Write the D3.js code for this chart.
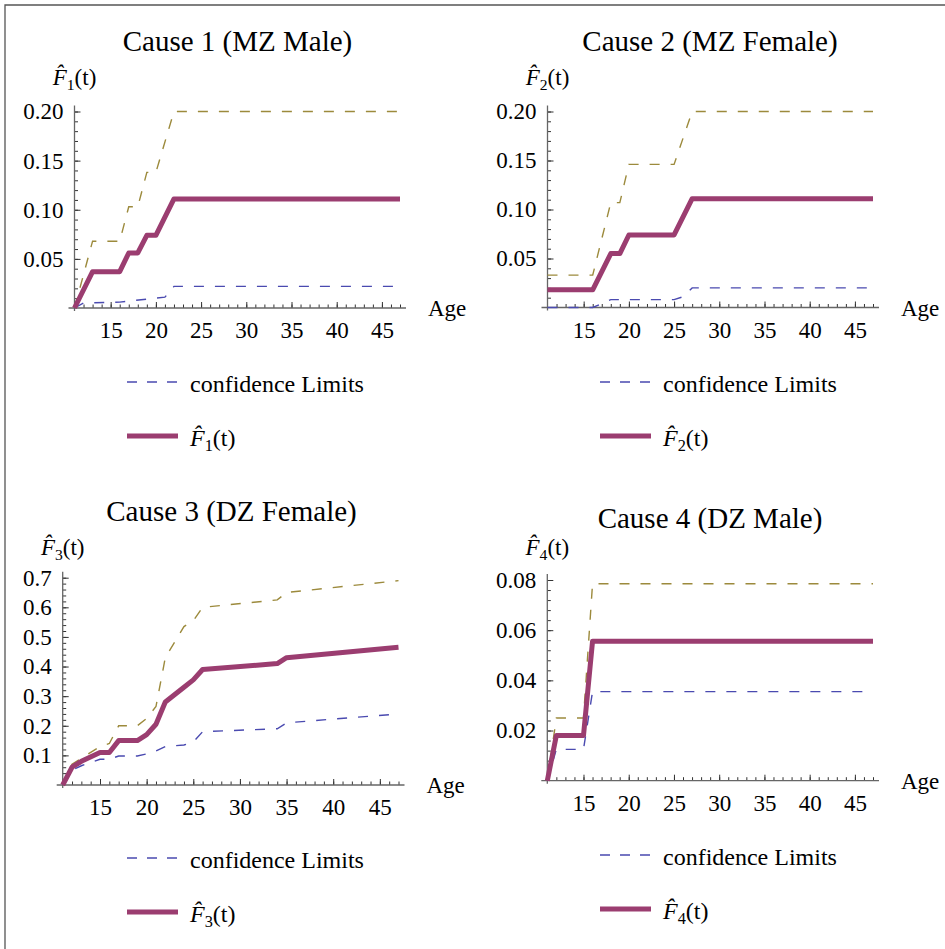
<!DOCTYPE html>
<html>
<head>
<meta charset="utf-8">
<script src="https://cdn.jsdelivr.net/npm/d3@7/dist/d3.min.js"></script>
<style>
body { margin:0; background:#fff; }
svg text { font-family: "Liberation Serif", "Times New Roman", serif; fill:#000; }
</style>
</head>
<body>
<svg id="chart" width="945" height="949"></svg>
<script>
// ---- data ----
// Cause 1 (MZ Male)
const ages1 = [11, 13, 16, 17, 18, 19, 20, 22, 47]
const est1 = [0, 0.037, 0.037, 0.056, 0.056, 0.074, 0.074, 0.111, 0.111]
const upper1 = [0, 0.068, 0.068, 0.103, 0.103, 0.138, 0.138, 0.2, 0.2]
const lowAges1 = [11, 12, 16, 19, 21, 22, 47]
const lower1 = [0, 0.005, 0.006, 0.009, 0.011, 0.022, 0.022]

// Cause 2 (MZ Female)
const ages2 = [11, 16, 18, 19, 20, 25, 27, 47]
const est2 = [0.018, 0.018, 0.055, 0.055, 0.074, 0.074, 0.111, 0.111]
const upper2 = [0.033, 0.033, 0.107, 0.107, 0.146, 0.146, 0.2, 0.2]
const lowAges2 = [11, 16, 18, 25, 26, 27, 47]
const lower2 = [0, 0, 0.008, 0.008, 0.011, 0.020, 0.020]

// Cause 3 (DZ Female)
const ages3 = [11, 12, 13, 15, 16, 17, 19, 20, 21, 22, 24, 25, 26, 34, 35, 47]
const est3 = [0, 0.06, 0.08, 0.11, 0.11, 0.15, 0.15, 0.17, 0.205, 0.28, 0.33, 0.355, 0.39, 0.41, 0.43, 0.465]
const upper3 = [0, 0.07, 0.09, 0.13, 0.14, 0.2, 0.2, 0.225, 0.265, 0.43, 0.535, 0.555, 0.6, 0.625, 0.65, 0.69]
const lower3 = [0, 0.05, 0.065, 0.087, 0.087, 0.098, 0.098, 0.105, 0.115, 0.13, 0.135, 0.145, 0.18, 0.19, 0.21, 0.24]

// Cause 4 (DZ Male)
const ages4 = [11, 12, 15, 16, 47]
const est4 = [0, 0.018, 0.018, 0.0556, 0.0556]
const upper4 = [0, 0.025, 0.025, 0.0785, 0.0785]
const lower4 = [0, 0.0125, 0.0125, 0.0355, 0.0355]

// tick values
const xTicks = [15, 20, 25, 30, 35, 40, 45]
const yTicks12 = [0.05, 0.10, 0.15, 0.20]
const yTicks3 = [0.1, 0.2, 0.3, 0.4, 0.5, 0.6, 0.7]
const yTicks4 = [0.02, 0.04, 0.06, 0.08]

const titles = ["Cause 1 (MZ Male)", "Cause 2 (MZ Female)", "Cause 3 (DZ Female)", "Cause 4 (DZ Male)"]

const serif = '"Liberation Serif", "Times New Roman", serif'
const colEst = "#9b3d70"
const colUp = "#9c8a3c"
const colLow = "#4a4ab0"

const panels = [
    {n:1, title:titles[0], ages:ages1, est:est1, up:upper1, lowAges:lowAges1, low:lower1,
     yMax:0.2, yTicks:yTicks12, yMinor:0.01, fmt:".2f",
     x0:74.5, x1:400, y0:308, y1:111.5, tx:237.5, ty:51, labY:85, legY:382, legX:127},
    {n:2, title:titles[1], ages:ages2, est:est2, up:upper2, lowAges:lowAges2, low:lower2,
     yMax:0.2, yTicks:yTicks12, yMinor:0.01, fmt:".2f",
     x0:547.5, x1:873, y0:307.5, y1:111.5, tx:710, ty:51, labY:85, legY:382, legX:600},
    {n:3, title:titles[2], ages:ages3, est:est3, up:upper3, lowAges:ages3, low:lower3,
     yMax:0.7, yTicks:yTicks3, yMinor:0.02, fmt:".1f",
     x0:62.7, x1:398.5, y0:785, y1:577.7, tx:231.5, ty:521, labY:555, legY:858, legX:127},
    {n:4, title:titles[3], ages:ages4, est:est4, up:upper4, lowAges:ages4, low:lower4,
     yMax:0.08, yTicks:yTicks4, yMinor:0.004, fmt:".2f",
     x0:547.3, x1:873, y0:780.7, y1:580, tx:710, ty:528, labY:555, legY:855, legX:600}
]

const svg = d3.select("#chart")

// outer frame
svg.append("path")
    .attr("d", "M5,949 L5,5 L945,5")
    .attr("fill", "none")
    .attr("stroke", "#555")
    .attr("stroke-width", 1.3)

function fLabel(sel, n, size){
    sel.append("tspan").attr("font-style", "italic").text("F\u0302")
    sel.append("tspan").attr("font-size", size*0.68).attr("dy", 5).text(n)
    sel.append("tspan").attr("dy", -5).text("(t)")
}

panels.forEach(function(p){
    const g = svg.append("g")

    const x = d3.scaleLinear().domain([11, 47]).range([p.x0, p.x1])
    const y = d3.scaleLinear().domain([0, p.yMax]).range([p.y0, p.y1])

    // title
    g.append("text")
        .attr("x", p.tx).attr("y", p.ty)
        .attr("text-anchor", "middle")
        .attr("font-size", 29)
        .text(p.title)

    // minor ticks
    const minorX = d3.range(12, 48)
    const minorY = d3.range(1, Math.round(p.yMax/p.yMinor)+1).map(i => i*p.yMinor)

    g.append("g")
        .attr("transform", `translate(0,${p.y0})`)
        .call(d3.axisBottom(x).tickValues(minorX).tickSize(-3.5).tickFormat(""))
        .call(a => a.select(".domain").remove())
    g.append("g")
        .attr("transform", `translate(${p.x0},0)`)
        .call(d3.axisLeft(y).tickValues(minorY).tickSize(-3.5).tickFormat(""))
        .call(a => a.select(".domain").remove())

    // major ticks with labels
    g.append("g")
        .attr("transform", `translate(0,${p.y0})`)
        .call(d3.axisBottom(x).tickValues(xTicks).tickSize(-6).tickPadding(14))
        .attr("font-family", serif).attr("font-size", 23)
        .call(a => a.select(".domain").remove())
    g.append("g")
        .attr("transform", `translate(${p.x0},0)`)
        .call(d3.axisLeft(y).tickValues(p.yTicks).tickSize(-6).tickPadding(11).tickFormat(d3.format(p.fmt)))
        .attr("font-family", serif).attr("font-size", 23)
        .call(a => a.select(".domain").remove())

    g.selectAll(".tick line").attr("stroke", "#333")

    // axis lines
    g.append("line")
        .attr("x1", p.x0-6).attr("x2", p.x1+6)
        .attr("y1", p.y0).attr("y2", p.y0)
        .attr("stroke", "#666").attr("stroke-width", 1.3)
    g.append("line")
        .attr("x1", p.x0).attr("x2", p.x0)
        .attr("y1", p.y0+3).attr("y2", p.y1-6)
        .attr("stroke", "#666").attr("stroke-width", 1.3)

    // axis labels
    g.append("text")
        .attr("x", p.x1+28).attr("y", p.y0+8)
        .attr("font-size", 23)
        .text("Age")
    const lab = g.append("text")
        .attr("x", p.x0).attr("y", p.labY)
        .attr("text-anchor", "middle")
        .attr("font-size", 23)
    fLabel(lab, p.n, 23)

    // lines
    const line = d3.line().x(d => x(d[0])).y(d => y(d[1]))

    g.append("path")
        .datum(p.ages.map((a, i) => [a, p.up[i]]))
        .attr("d", line)
        .attr("fill", "none")
        .attr("stroke", colUp)
        .attr("stroke-width", 1.4)
        .attr("stroke-dasharray", "10,11")
    g.append("path")
        .datum(p.lowAges.map((a, i) => [a, p.low[i]]))
        .attr("d", line)
        .attr("fill", "none")
        .attr("stroke", colLow)
        .attr("stroke-width", 1.4)
        .attr("stroke-dasharray", "10,11")
    g.append("path")
        .datum(p.ages.map((a, i) => [a, p.est[i]]))
        .attr("d", line)
        .attr("fill", "none")
        .attr("stroke", colEst)
        .attr("stroke-width", 5)
        .attr("stroke-linejoin", "round")

    // legend
    g.append("line")
        .attr("x1", p.legX).attr("x2", p.legX+51)
        .attr("y1", p.legY).attr("y2", p.legY)
        .attr("stroke", colLow).attr("stroke-width", 1.4)
        .attr("stroke-dasharray", "10,10")
    g.append("text")
        .attr("x", p.legX+63).attr("y", p.legY+10)
        .attr("font-size", 24)
        .text("confidence Limits")
    g.append("line")
        .attr("x1", p.legX).attr("x2", p.legX+51)
        .attr("y1", p.legY+54).attr("y2", p.legY+54)
        .attr("stroke", colEst).attr("stroke-width", 5)
    const leg = g.append("text")
        .attr("x", p.legX+63).attr("y", p.legY+64)
        .attr("font-size", 24)
    fLabel(leg, p.n, 24)
})
</script>
</body>
</html>
